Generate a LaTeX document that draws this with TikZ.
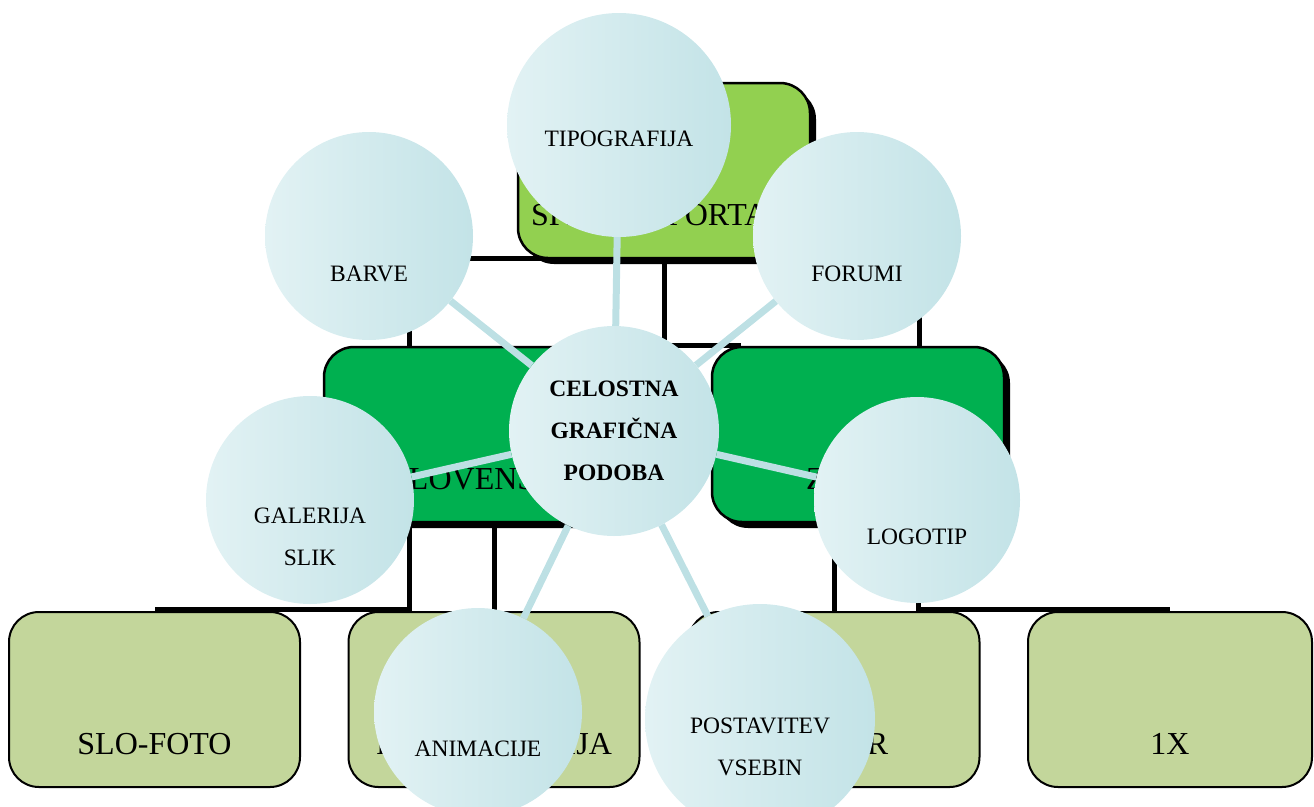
\documentclass[tikz,border=0pt]{standalone}
\usepackage{fontspec}
\setmainfont{Liberation Serif}
\usetikzlibrary{shadows,backgrounds}
\definecolor{portalgreen}{RGB}{146,208,80}
\definecolor{midgreen}{RGB}{0,176,80}
\definecolor{leafgreen}{RGB}{195,214,155}
\definecolor{bubleft}{RGB}{226,242,244}
\definecolor{bubright}{RGB}{195,227,231}
\definecolor{spokeblue}{RGB}{189,224,228}

\begin{document}
\begin{tikzpicture}[x=1pt, y=-1pt,
			headbox/.style={draw, line width=2.5pt, rounded corners=30pt, minimum width=292pt, minimum height=175pt, drop shadow={shadow xshift=6pt, shadow yshift=-6pt, opacity=1, fill=black}},
			leafbox/.style={draw, line width=2pt, rounded corners=30pt, minimum width=291pt, minimum height=175pt, fill=leafgreen},
			boxtext/.style={anchor=base, inner sep=0pt, font=\fontsize{32}{38}\selectfont},
			bus/.style={line width=5pt},
			spoke/.style={line width=7pt, draw=spokeblue},
			bubble/.style={circle, inner sep=0pt, left color=bubleft, right color=bubright},
			bubtext/.style={align=center, font=\fontsize{23.5}{42}\selectfont}
		]

		\useasboundingbox (0,0) rectangle (1314,806);

		\coordinate (busTL) at (409,258);
		\coordinate (busTR) at (919,258);
		\coordinate (busBL) at (409,609);
		\coordinate (busBR) at (918,609);

		\node[headbox, fill=portalgreen] (portal) at (664,170.5) {};
		\node[headbox, fill=midgreen, minimum width=293pt] (slo) at (470.5,434.5) {};
		\node[headbox, fill=midgreen] (zam) at (858,434.5) {};

		\node[leafbox] (foto) at (154.5,699.5) {};
		\node[leafbox] (fotogal) at (494,699.5) {};
		\node[leafbox] (bazar) at (834,699.5) {};
		\node[leafbox, minimum width=284pt] (onex) at (1170,699.5) {};

		\begin{scope}[on background layer]
		\draw[bus] (busTL |- slo.north) -- (busTL) -- (busTR) -- (busTR |- zam.north);
		\draw[bus] (portal.south) -- (portal.south |- zam.north) -- ([xshift=30pt]zam.north west);
		\draw[bus] (busBL |- slo.south) -- (busBL) -- (busBL -| foto.north);
		\draw[bus] (fotogal.north |- slo.south) -- (fotogal.north);
		\draw[bus] (bazar.north |- zam.south) -- (bazar.north);
		\draw[bus] (busBR |- zam.south) -- (busBR) -- (busBR -| onex.north);
		\end{scope}

		\node[boxtext] (portaltxt) at (659,225) {SPLETNI PORTAL};
		\node[boxtext, anchor=base west] (slotxt) at (391,489) {SLOVENSKI};
		\node[boxtext, anchor=base west] (zamtxt) at (806,489) {ZAMEJSKI};
		\node[boxtext] (fototxt) at (154.5,754) {SLO-FOTO};
		\node[boxtext] (fotogaltxt) at (494,754) {FOTOGALERIJA};
		\node[boxtext] (bazartxt) at (834,754) {BAZAR};
		\node[boxtext] (onextxt) at (1170,754) {1X};

		\node[bubble, minimum size=224pt, label={[bubtext, name=tipotxt, yshift=-14pt]center:TIPOGRAFIJA}] (tipo) at (619,125) {};
		\node[bubble, minimum size=208pt, label={[bubtext, name=barvetxt, yshift=-38pt]center:BARVE}] (barve) at (369,236) {};
		\node[bubble, minimum size=208pt, label={[bubtext, name=forumitxt, yshift=-38pt]center:FORUMI}] (forumi) at (857,236) {};
		\node[bubble, minimum size=208pt, label={[bubtext, name=galerijatxt, yshift=-37pt]center:GALERIJA\\SLIK}] (galerija) at (310,500) {};
		\node[bubble, minimum size=206pt, label={[bubtext, name=logotiptxt, yshift=-37pt]center:LOGOTIP}] (logotip) at (917,500) {};
		\node[bubble, minimum size=208pt, label={[bubtext, name=animacijetxt, yshift=-37pt]center:ANIMACIJE}] (animacije) at (478,712) {};
		\node[bubble, minimum size=230pt, label={[bubtext, name=postavitevtxt, yshift=-28pt]center:POSTAVITEV\\VSEBIN}] (postavitev) at (760,719) {};
		\node[bubble, minimum size=210pt, label={[bubtext, name=cgptxt]center:\textbf{CELOSTNA}\\\textbf{GRAFIČNA}\\\textbf{PODOBA}}] (cgp) at (614,431) {};

		\draw[spoke] (cgp) -- (tipo);
		\draw[spoke] (cgp) -- (barve);
		\draw[spoke] (cgp) -- (forumi);
		\draw[spoke] (cgp) -- (galerija);
		\draw[spoke] (cgp) -- (logotip);
		\draw[spoke] (cgp) -- (animacije);
		\draw[spoke] (cgp) -- (postavitev);

	\end{tikzpicture}
\end{document}
